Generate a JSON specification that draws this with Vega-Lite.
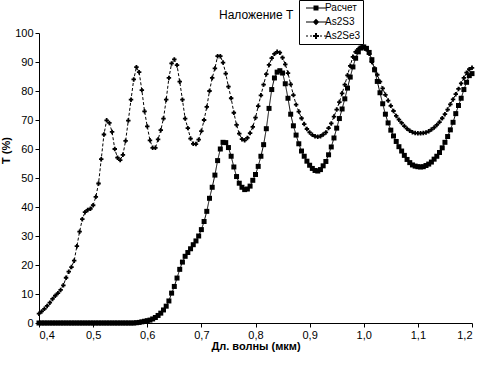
{
  "$schema": "https://vega.github.io/schema/vega-lite/v6.json",
  "width": 433,
  "height": 290,
  "autosize": "none",
  "padding": {"left": 39, "top": 33, "right": 14, "bottom": 51},
  "background": "white",
  "title": {"text": "Наложение Т", "anchor": "start", "frame": "group", "dx": 180, "offset": -22, "fontSize": 12, "fontWeight": "normal", "font": "Liberation Sans", "color": "black"},
  "config": {
    "locale": {"number": {"decimal": ",", "thousands": " ", "grouping": [3], "currency": ["", ""]}},
    "view": {"stroke": null},
    "axis": {"labelFont": "Liberation Sans", "labelFontSize": 11, "labelColor": "black", "titleFont": "Liberation Sans", "titleFontSize": 11, "titleFontWeight": "bold", "titleColor": "black", "domainColor": "black", "tickColor": "black", "grid": false, "tickSize": 4, "labelPadding": 2}
  },
  "data": {"values": [
    {"s":"Расчет","x":0.400,"t":0},{"s":"Расчет","x":0.405,"t":0},{"s":"Расчет","x":0.410,"t":0},{"s":"Расчет","x":0.415,"t":0},{"s":"Расчет","x":0.420,"t":0},{"s":"Расчет","x":0.425,"t":0},{"s":"Расчет","x":0.430,"t":0},{"s":"Расчет","x":0.435,"t":0},{"s":"Расчет","x":0.440,"t":0},{"s":"Расчет","x":0.445,"t":0},{"s":"Расчет","x":0.450,"t":0},{"s":"Расчет","x":0.455,"t":0},{"s":"Расчет","x":0.460,"t":0},{"s":"Расчет","x":0.465,"t":0},{"s":"Расчет","x":0.470,"t":0},{"s":"Расчет","x":0.475,"t":0},{"s":"Расчет","x":0.480,"t":0},{"s":"Расчет","x":0.485,"t":0},{"s":"Расчет","x":0.490,"t":0},{"s":"Расчет","x":0.495,"t":0},{"s":"Расчет","x":0.500,"t":0},{"s":"Расчет","x":0.505,"t":0},{"s":"Расчет","x":0.510,"t":0},{"s":"Расчет","x":0.515,"t":0},{"s":"Расчет","x":0.520,"t":0},{"s":"Расчет","x":0.525,"t":0},{"s":"Расчет","x":0.530,"t":0},{"s":"Расчет","x":0.535,"t":0},{"s":"Расчет","x":0.540,"t":0},{"s":"Расчет","x":0.545,"t":0},{"s":"Расчет","x":0.550,"t":0},{"s":"Расчет","x":0.555,"t":0},{"s":"Расчет","x":0.560,"t":0},{"s":"Расчет","x":0.565,"t":0},{"s":"Расчет","x":0.570,"t":0},{"s":"Расчет","x":0.575,"t":0},
    {"s":"Расчет","x":0.580,"t":0.1},{"s":"Расчет","x":0.585,"t":0.2},{"s":"Расчет","x":0.590,"t":0.4},{"s":"Расчет","x":0.595,"t":0.6},{"s":"Расчет","x":0.600,"t":0.8},{"s":"Расчет","x":0.605,"t":1.0},{"s":"Расчет","x":0.610,"t":1.4},{"s":"Расчет","x":0.615,"t":1.9},{"s":"Расчет","x":0.620,"t":2.6},{"s":"Расчет","x":0.625,"t":3.4},{"s":"Расчет","x":0.630,"t":4.5},{"s":"Расчет","x":0.635,"t":5.8},{"s":"Расчет","x":0.640,"t":7.6},{"s":"Расчет","x":0.645,"t":10.3},{"s":"Расчет","x":0.650,"t":12.6},{"s":"Расчет","x":0.655,"t":15.5},{"s":"Расчет","x":0.660,"t":18.5},{"s":"Расчет","x":0.665,"t":21.0},{"s":"Расчет","x":0.670,"t":23.0},{"s":"Расчет","x":0.675,"t":24.3},{"s":"Расчет","x":0.680,"t":25.6},{"s":"Расчет","x":0.685,"t":27.0},{"s":"Расчет","x":0.690,"t":28.3},{"s":"Расчет","x":0.695,"t":30.0},{"s":"Расчет","x":0.700,"t":32.2},{"s":"Расчет","x":0.705,"t":35.0},{"s":"Расчет","x":0.710,"t":38.5},{"s":"Расчет","x":0.715,"t":43.0},{"s":"Расчет","x":0.720,"t":46.8},{"s":"Расчет","x":0.725,"t":51.0},{"s":"Расчет","x":0.730,"t":56.0},{"s":"Расчет","x":0.735,"t":60.0},{"s":"Расчет","x":0.740,"t":62.3},{"s":"Расчет","x":0.745,"t":62.2},{"s":"Расчет","x":0.750,"t":60.5},{"s":"Расчет","x":0.755,"t":57.5},{"s":"Расчет","x":0.760,"t":53.8},{"s":"Расчет","x":0.765,"t":50.5},{"s":"Расчет","x":0.770,"t":48.2},{"s":"Расчет","x":0.775,"t":46.8},{"s":"Расчет","x":0.780,"t":46.0},{"s":"Расчет","x":0.785,"t":46.2},{"s":"Расчет","x":0.790,"t":47.2},{"s":"Расчет","x":0.795,"t":49.2},{"s":"Расчет","x":0.800,"t":51.2},{"s":"Расчет","x":0.805,"t":54.0},{"s":"Расчет","x":0.810,"t":57.5},{"s":"Расчет","x":0.815,"t":61.5},{"s":"Расчет","x":0.820,"t":67.0},{"s":"Расчет","x":0.825,"t":74.0},{"s":"Расчет","x":0.830,"t":80.5},{"s":"Расчет","x":0.835,"t":84.5},{"s":"Расчет","x":0.840,"t":86.5},{"s":"Расчет","x":0.845,"t":87.0},{"s":"Расчет","x":0.850,"t":86.2},{"s":"Расчет","x":0.855,"t":82.5},{"s":"Расчет","x":0.860,"t":77.5},{"s":"Расчет","x":0.865,"t":72.0},{"s":"Расчет","x":0.870,"t":68.0},{"s":"Расчет","x":0.875,"t":64.8},{"s":"Расчет","x":0.880,"t":61.8},{"s":"Расчет","x":0.885,"t":59.3},{"s":"Расчет","x":0.890,"t":57.5},{"s":"Расчет","x":0.895,"t":55.8},{"s":"Расчет","x":0.900,"t":54.4},{"s":"Расчет","x":0.905,"t":53.3},{"s":"Расчет","x":0.910,"t":52.6},{"s":"Расчет","x":0.915,"t":52.4},{"s":"Расчет","x":0.920,"t":52.9},{"s":"Расчет","x":0.925,"t":54.2},{"s":"Расчет","x":0.930,"t":55.7},{"s":"Расчет","x":0.935,"t":58.0},{"s":"Расчет","x":0.940,"t":60.7},{"s":"Расчет","x":0.945,"t":63.8},{"s":"Расчет","x":0.950,"t":67.2},{"s":"Расчет","x":0.955,"t":70.5},{"s":"Расчет","x":0.960,"t":73.8},{"s":"Расчет","x":0.965,"t":77.3},{"s":"Расчет","x":0.970,"t":81.0},{"s":"Расчет","x":0.975,"t":84.8},{"s":"Расчет","x":0.980,"t":88.3},{"s":"Расчет","x":0.985,"t":91.3},{"s":"Расчет","x":0.990,"t":93.5},{"s":"Расчет","x":0.995,"t":94.8},{"s":"Расчет","x":1.000,"t":95.2},{"s":"Расчет","x":1.005,"t":94.7},{"s":"Расчет","x":1.010,"t":93.3},{"s":"Расчет","x":1.015,"t":90.8},{"s":"Расчет","x":1.020,"t":87.3},{"s":"Расчет","x":1.025,"t":83.3},{"s":"Расчет","x":1.030,"t":79.4},{"s":"Расчет","x":1.035,"t":75.6},{"s":"Расчет","x":1.040,"t":72.0},{"s":"Расчет","x":1.045,"t":69.0},{"s":"Расчет","x":1.050,"t":66.5},{"s":"Расчет","x":1.055,"t":64.5},{"s":"Расчет","x":1.060,"t":62.6},{"s":"Расчет","x":1.065,"t":60.8},{"s":"Расчет","x":1.070,"t":59.3},{"s":"Расчет","x":1.075,"t":57.8},{"s":"Расчет","x":1.080,"t":56.4},{"s":"Расчет","x":1.085,"t":55.3},{"s":"Расчет","x":1.090,"t":54.5},{"s":"Расчет","x":1.095,"t":54.1},{"s":"Расчет","x":1.100,"t":53.9},{"s":"Расчет","x":1.105,"t":53.8},{"s":"Расчет","x":1.110,"t":53.9},{"s":"Расчет","x":1.115,"t":54.3},{"s":"Расчет","x":1.120,"t":54.8},{"s":"Расчет","x":1.125,"t":55.5},{"s":"Расчет","x":1.130,"t":56.5},{"s":"Расчет","x":1.135,"t":57.5},{"s":"Расчет","x":1.140,"t":58.8},{"s":"Расчет","x":1.145,"t":60.4},{"s":"Расчет","x":1.150,"t":62.3},{"s":"Расчет","x":1.155,"t":64.3},{"s":"Расчет","x":1.160,"t":66.6},{"s":"Расчет","x":1.165,"t":69.2},{"s":"Расчет","x":1.170,"t":72.2},{"s":"Расчет","x":1.175,"t":75.0},{"s":"Расчет","x":1.180,"t":77.5},{"s":"Расчет","x":1.185,"t":80.5},{"s":"Расчет","x":1.190,"t":83.0},{"s":"Расчет","x":1.195,"t":85.3},{"s":"Расчет","x":1.200,"t":86.0},
    {"s":"As2Se3","x":0.400,"t":3.2},{"s":"As2Se3","x":0.405,"t":4.0},{"s":"As2Se3","x":0.410,"t":4.9},{"s":"As2Se3","x":0.415,"t":5.9},{"s":"As2Se3","x":0.420,"t":7.0},{"s":"As2Se3","x":0.425,"t":8.3},{"s":"As2Se3","x":0.430,"t":9.4},{"s":"As2Se3","x":0.435,"t":10.3},{"s":"As2Se3","x":0.440,"t":11.4},{"s":"As2Se3","x":0.445,"t":13.0},{"s":"As2Se3","x":0.450,"t":15.6},{"s":"As2Se3","x":0.455,"t":17.7},{"s":"As2Se3","x":0.460,"t":19.3},{"s":"As2Se3","x":0.465,"t":21.5},{"s":"As2Se3","x":0.470,"t":26.5},{"s":"As2Se3","x":0.475,"t":31.5},{"s":"As2Se3","x":0.480,"t":35.8},{"s":"As2Se3","x":0.485,"t":38.2},{"s":"As2Se3","x":0.490,"t":39.0},{"s":"As2Se3","x":0.495,"t":39.4},{"s":"As2Se3","x":0.500,"t":40.6},{"s":"As2Se3","x":0.505,"t":43.5},{"s":"As2Se3","x":0.510,"t":48.1},{"s":"As2Se3","x":0.515,"t":56.5},{"s":"As2Se3","x":0.520,"t":65.0},{"s":"As2Se3","x":0.525,"t":69.9},{"s":"As2Se3","x":0.530,"t":69.0},{"s":"As2Se3","x":0.535,"t":65.9},{"s":"As2Se3","x":0.540,"t":60.0},{"s":"As2Se3","x":0.545,"t":57.0},{"s":"As2Se3","x":0.550,"t":56.2},{"s":"As2Se3","x":0.555,"t":58.0},{"s":"As2Se3","x":0.560,"t":62.8},{"s":"As2Se3","x":0.565,"t":69.8},{"s":"As2Se3","x":0.570,"t":77.0},{"s":"As2Se3","x":0.575,"t":84.0},{"s":"As2Se3","x":0.580,"t":88.2},{"s":"As2Se3","x":0.585,"t":86.5},{"s":"As2Se3","x":0.590,"t":80.3},{"s":"As2Se3","x":0.595,"t":73.0},{"s":"As2Se3","x":0.600,"t":67.8},{"s":"As2Se3","x":0.605,"t":63.0},{"s":"As2Se3","x":0.610,"t":60.4},{"s":"As2Se3","x":0.615,"t":60.4},{"s":"As2Se3","x":0.620,"t":63.3},{"s":"As2Se3","x":0.625,"t":66.5},{"s":"As2Se3","x":0.630,"t":70.5},{"s":"As2Se3","x":0.635,"t":77.0},{"s":"As2Se3","x":0.640,"t":84.5},{"s":"As2Se3","x":0.645,"t":89.5},{"s":"As2Se3","x":0.650,"t":90.9},{"s":"As2Se3","x":0.655,"t":88.9},{"s":"As2Se3","x":0.660,"t":83.2},{"s":"As2Se3","x":0.665,"t":77.0},{"s":"As2Se3","x":0.670,"t":70.5},{"s":"As2Se3","x":0.675,"t":67.2},{"s":"As2Se3","x":0.680,"t":63.6},{"s":"As2Se3","x":0.685,"t":61.8},{"s":"As2Se3","x":0.690,"t":61.7},{"s":"As2Se3","x":0.695,"t":63.2},{"s":"As2Se3","x":0.700,"t":66.2},{"s":"As2Se3","x":0.705,"t":70.0},{"s":"As2Se3","x":0.710,"t":74.5},{"s":"As2Se3","x":0.715,"t":80.0},{"s":"As2Se3","x":0.720,"t":84.5},{"s":"As2Se3","x":0.725,"t":87.8},{"s":"As2Se3","x":0.730,"t":92.0},{"s":"As2Se3","x":0.735,"t":92.0},{"s":"As2Se3","x":0.740,"t":89.8},{"s":"As2Se3","x":0.745,"t":86.0},{"s":"As2Se3","x":0.750,"t":81.5},{"s":"As2Se3","x":0.755,"t":77.5},{"s":"As2Se3","x":0.760,"t":72.5},{"s":"As2Se3","x":0.765,"t":68.3},{"s":"As2Se3","x":0.770,"t":65.3},{"s":"As2Se3","x":0.775,"t":63.4},{"s":"As2Se3","x":0.780,"t":63.0},{"s":"As2Se3","x":0.785,"t":63.8},{"s":"As2Se3","x":0.790,"t":65.5},{"s":"As2Se3","x":0.795,"t":67.6},{"s":"As2Se3","x":0.800,"t":70.8},{"s":"As2Se3","x":0.805,"t":74.8},{"s":"As2Se3","x":0.810,"t":78.5},{"s":"As2Se3","x":0.815,"t":82.2},{"s":"As2Se3","x":0.820,"t":85.8},{"s":"As2Se3","x":0.825,"t":89.0},{"s":"As2Se3","x":0.830,"t":91.3},{"s":"As2Se3","x":0.835,"t":92.8},{"s":"As2Se3","x":0.840,"t":93.5},{"s":"As2Se3","x":0.845,"t":93.2},{"s":"As2Se3","x":0.850,"t":91.5},{"s":"As2Se3","x":0.855,"t":89.2},{"s":"As2Se3","x":0.860,"t":86.2},{"s":"As2Se3","x":0.865,"t":82.3},{"s":"As2Se3","x":0.870,"t":78.6},{"s":"As2Se3","x":0.875,"t":75.3},{"s":"As2Se3","x":0.880,"t":72.9},{"s":"As2Se3","x":0.885,"t":70.6},{"s":"As2Se3","x":0.890,"t":68.6},{"s":"As2Se3","x":0.895,"t":66.9},{"s":"As2Se3","x":0.900,"t":65.7},{"s":"As2Se3","x":0.905,"t":64.9},{"s":"As2Se3","x":0.910,"t":64.4},{"s":"As2Se3","x":0.915,"t":64.2},{"s":"As2Se3","x":0.920,"t":64.4},{"s":"As2Se3","x":0.925,"t":65.0},{"s":"As2Se3","x":0.930,"t":65.7},{"s":"As2Se3","x":0.935,"t":67.2},{"s":"As2Se3","x":0.940,"t":68.8},{"s":"As2Se3","x":0.945,"t":71.2},{"s":"As2Se3","x":0.950,"t":73.6},{"s":"As2Se3","x":0.955,"t":76.2},{"s":"As2Se3","x":0.960,"t":79.2},{"s":"As2Se3","x":0.965,"t":82.2},{"s":"As2Se3","x":0.970,"t":85.4},{"s":"As2Se3","x":0.975,"t":88.7},{"s":"As2Se3","x":0.980,"t":91.8},{"s":"As2Se3","x":0.985,"t":93.5},{"s":"As2Se3","x":0.990,"t":94.5},{"s":"As2Se3","x":0.995,"t":95.0},{"s":"As2Se3","x":1.000,"t":95.2},{"s":"As2Se3","x":1.005,"t":94.3},{"s":"As2Se3","x":1.010,"t":92.8},{"s":"As2Se3","x":1.015,"t":90.0},{"s":"As2Se3","x":1.020,"t":87.8},{"s":"As2Se3","x":1.025,"t":85.6},{"s":"As2Se3","x":1.030,"t":83.2},{"s":"As2Se3","x":1.035,"t":80.9},{"s":"As2Se3","x":1.040,"t":78.7},{"s":"As2Se3","x":1.045,"t":76.7},{"s":"As2Se3","x":1.050,"t":74.9},{"s":"As2Se3","x":1.055,"t":73.1},{"s":"As2Se3","x":1.060,"t":71.4},{"s":"As2Se3","x":1.065,"t":70.1},{"s":"As2Se3","x":1.070,"t":69.0},{"s":"As2Se3","x":1.075,"t":67.9},{"s":"As2Se3","x":1.080,"t":67.0},{"s":"As2Se3","x":1.085,"t":66.3},{"s":"As2Se3","x":1.090,"t":65.8},{"s":"As2Se3","x":1.095,"t":65.5},{"s":"As2Se3","x":1.100,"t":65.4},{"s":"As2Se3","x":1.105,"t":65.4},{"s":"As2Se3","x":1.110,"t":65.5},{"s":"As2Se3","x":1.115,"t":65.7},{"s":"As2Se3","x":1.120,"t":66.1},{"s":"As2Se3","x":1.125,"t":66.7},{"s":"As2Se3","x":1.130,"t":67.4},{"s":"As2Se3","x":1.135,"t":68.3},{"s":"As2Se3","x":1.140,"t":69.3},{"s":"As2Se3","x":1.145,"t":70.6},{"s":"As2Se3","x":1.150,"t":72.0},{"s":"As2Se3","x":1.155,"t":73.6},{"s":"As2Se3","x":1.160,"t":75.4},{"s":"As2Se3","x":1.165,"t":77.1},{"s":"As2Se3","x":1.170,"t":78.9},{"s":"As2Se3","x":1.175,"t":80.7},{"s":"As2Se3","x":1.180,"t":82.6},{"s":"As2Se3","x":1.185,"t":84.5},{"s":"As2Se3","x":1.190,"t":86.3},{"s":"As2Se3","x":1.195,"t":87.5},{"s":"As2Se3","x":1.200,"t":88.0}
  ]},
  "encoding": {
    "x": {"field": "x", "type": "quantitative", "scale": {"domain": [0.4, 1.2], "nice": false, "zero": false},
      "axis": {"title": "Дл. волны (мкм)", "values": [0.4, 0.5, 0.6, 0.7, 0.8, 0.9, 1.0, 1.1, 1.2], "format": ".1f", "titlePadding": 0}},
    "y": {"field": "t", "type": "quantitative", "scale": {"domain": [0, 100], "nice": false},
      "axis": {"title": "T (%)", "values": [0, 10, 20, 30, 40, 50, 60, 70, 80, 90, 100], "titleX": -28, "titleY": 117}}
  },
  "resolve": {"scale": {"shape": "independent"}, "legend": {"shape": "independent"}},
  "layer": [
    {
      "mark": {"type": "line", "color": "black", "strokeWidth": 1},
      "encoding": {
        "detail": {"field": "s"},
        "strokeDash": {"field": "s", "type": "nominal", "scale": {"domain": ["As2Se3", "Расчет", "As2S3"], "range": [[3, 2], [1, 0], [1, 0]]}, "legend": null}
      }
    },
    {
      "mark": {"type": "point", "filled": true, "color": "black", "opacity": 1},
      "encoding": {
        "shape": {"field": "s", "type": "nominal", "scale": {"domain": ["Расчет", "As2Se3", "As2S3"], "range": ["square", "cross", "diamond"]}, "legend": null},
        "size": {"condition": {"test": "datum.s === 'Расчет'", "value": 25}, "value": 20}
      }
    },
    {
      "transform": [{"filter": "false"}],
      "mark": {"type": "point", "filled": true, "color": "black", "opacity": 1},
      "encoding": {
        "shape": {"field": "s", "type": "nominal",
          "scale": {"domain": ["Расчет", "As2S3", "As2Se3"], "range": [
            "M-2,-0.1H2V0.1H-2ZM-0.5,-0.5H0.5V0.5H-0.5Z",
            "M-2,-0.1H2V0.1H-2ZM0,-0.65L0.65,0L0,0.65L-0.65,0Z",
            "M-2,-0.1H-1.6V0.1H-2ZM-1.2,-0.1H-0.8V0.1H-1.2ZM0.8,-0.1H1.2V0.1H0.8ZM1.6,-0.1H2V0.1H1.6ZM-0.2,-0.6H0.2V-0.2H0.6V0.2H0.2V0.6H-0.2V0.2H-0.6V-0.2H-0.2Z"
          ]},
          "legend": {
            "title": null, "orient": "none", "legendX": 260, "legendY": -33,
            "strokeColor": "black", "fillColor": "white", "padding": 2, "rowPadding": 1,
            "labelFont": "Liberation Sans", "labelFontSize": 10, "labelColor": "black",
            "symbolSize": 100, "symbolOffset": 9, "labelOffset": 3,
            "symbolFillColor": "black"
          }}
      }
    }
  ]
}
